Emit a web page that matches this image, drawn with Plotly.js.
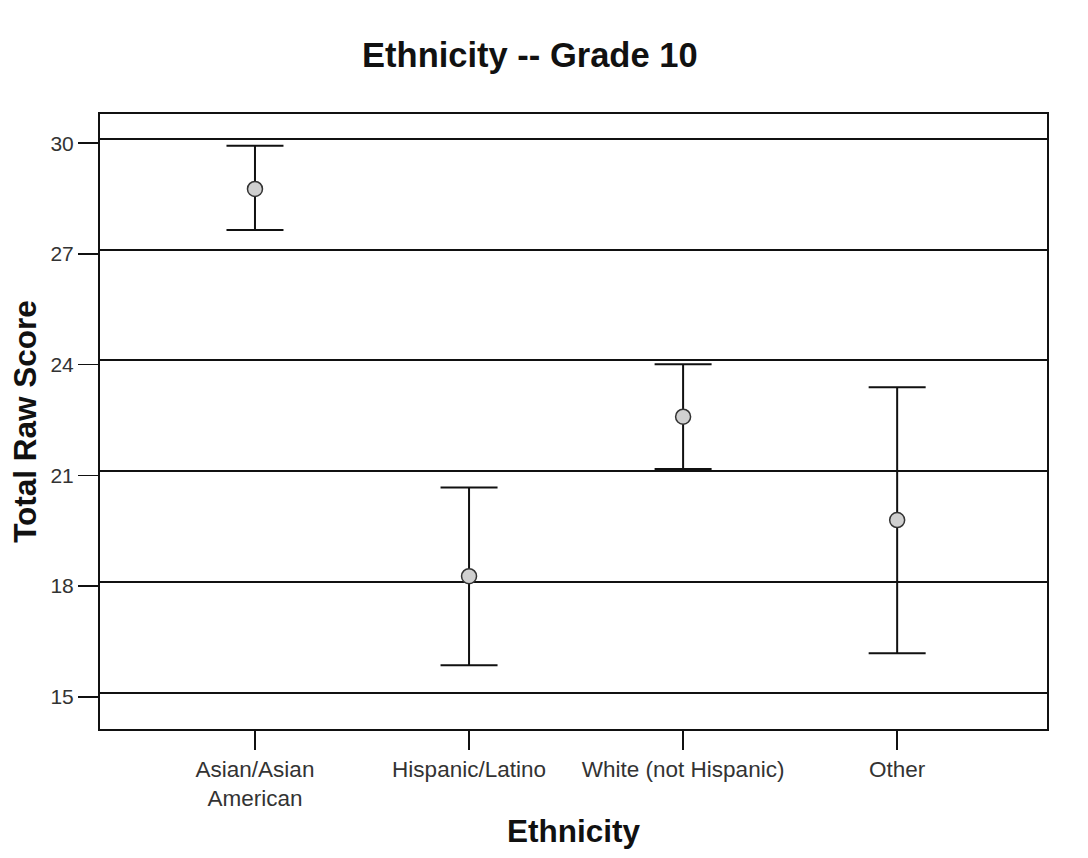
<!DOCTYPE html>
<html>
<head>
<meta charset="utf-8">
<script src="https://cdn.plot.ly/plotly-3.0.1.min.js"></script>
<style>html,body{margin:0;padding:0;background:#fff}#chart{width:1088px;height:858px}</style>
</head>
<body>
<div id="chart"></div>
<script>
const categories = ["Asian/Asian<br>American", "Hispanic/Latino", "White (not Hispanic)", "Other"];
const meanScore = [28.76, 18.27, 22.59, 19.79];
const upperCI   = [29.93, 20.67, 24.01, 23.39];
const lowerCI   = [27.65, 15.86, 21.17, 16.18];
const yTickVals = [15, 18, 21, 24, 27, 30];

const trace = {
  type: "scatter",
  mode: "markers",
  x: categories,
  y: meanScore,
  marker: {symbol: "circle", size: 15, color: "#d0d0d0", line: {color: "#333", width: 1.5}},
  error_y: {
    type: "data",
    symmetric: false,
    array: upperCI.map((u, i) => u - meanScore[i]),
    arrayminus: lowerCI.map((l, i) => meanScore[i] - l),
    color: "#111",
    thickness: 2,
    width: 28.5
  },
  hoverinfo: "x+y",
  showlegend: false
};

const yLo = 14.13, yHi = 30.79, gridShift = 0.114;

const layout = {
  width: 1088,
  height: 858,
  margin: {l: 100, r: 41, t: 114, b: 129},
  paper_bgcolor: "#fff",
  plot_bgcolor: "#fff",
  font: {family: "Liberation Sans, Arial, sans-serif", color: "#222"},
  title: {
    text: "<b>Ethnicity -- Grade 10</b>",
    font: {size: 34.5, color: "#111"},
    xref: "container", x: 0.487, xanchor: "center",
    yref: "container", y: 1 - 55/858, yanchor: "middle"
  },
  xaxis: {
    type: "category",
    range: [-0.724, 3.70],
    showline: true, linecolor: "#111", linewidth: 2, mirror: true,
    ticks: "outside", ticklen: 19, tickwidth: 1.5, tickcolor: "#111",
    tickfont: {size: 22.5, color: "#333"},
    showgrid: false, zeroline: false,
    title: {text: "<b>Ethnicity</b>", font: {size: 31.5, color: "#111"}, standoff: 10}
  },
  yaxis: {
    range: [yLo, yHi],
    tickvals: yTickVals,
    showline: true, linecolor: "#111", linewidth: 2, mirror: true,
    ticks: "outside", ticklen: 20, tickwidth: 1.5, tickcolor: "#111",
    tickfont: {size: 21, color: "#333"},
    showgrid: false, zeroline: false,
    title: {text: "<b>Total Raw Score</b>", font: {size: 31.5, color: "#111"}, standoff: 4}
  },
  yaxis2: {
    overlaying: "y",
    side: "left",
    range: [yLo - gridShift, yHi - gridShift],
    tickvals: yTickVals,
    showgrid: true, gridcolor: "#111", gridwidth: 2,
    showticklabels: false, ticks: "",
    showline: false, zeroline: false
  },
  showlegend: false
};

const gridTrace = {type: "scatter", x: [categories[0]], y: [null], yaxis: "y2", mode: "markers", showlegend: false, hoverinfo: "skip"};

Plotly.newPlot("chart", [gridTrace, trace], layout, {displayModeBar: false, staticPlot: true});
</script>
</body>
</html>
